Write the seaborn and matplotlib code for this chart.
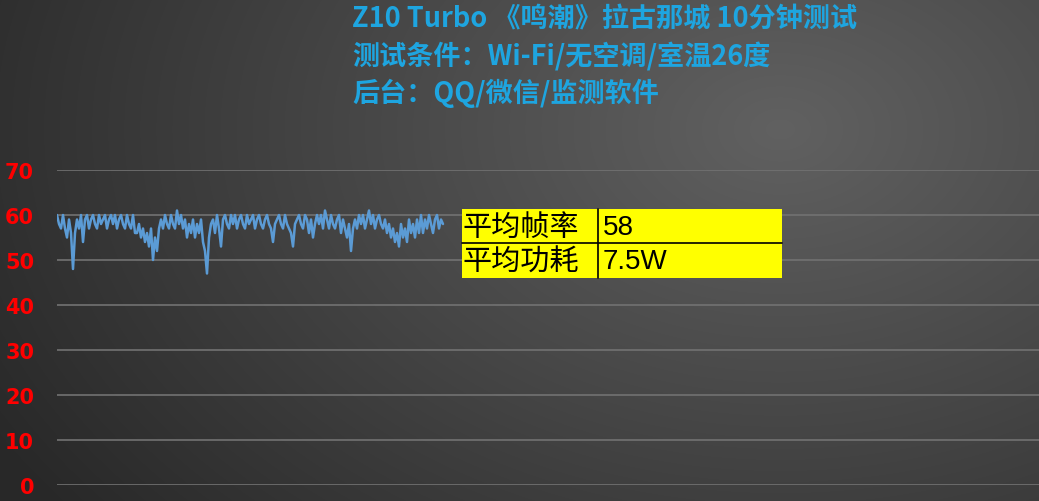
import numpy as np
import pandas as pd
import matplotlib
matplotlib.use("Agg")
import matplotlib.pyplot as plt
from matplotlib.patches import Rectangle
from matplotlib.lines import Line2D
import seaborn as sns

# ---------------- data ----------------
title_lines = [
    "Z10 Turbo 《鸣潮》拉古那城 10分钟测试",
    "测试条件：Wi-Fi/无空调/室温26度",
    "后台：QQ/微信/监测软件",
]
y_ticks = [0, 10, 20, 30, 40, 50, 60, 70]
fps = [
    60, 58, 57, 60, 57, 55, 59, 56, 48, 56, 59, 57, 60, 54,
    59, 60, 57, 59, 60, 58, 57, 60, 58, 59, 60, 57, 59, 60, 58, 60, 57,
    59, 60, 58, 57, 60,
    58, 57, 60, 56, 56,
    58, 55, 57, 54, 56, 53, 57, 50, 55, 52,
    57, 59, 57, 60, 58, 57, 60, 58, 57, 61,
    58, 60, 57, 59, 55,
    58, 56, 59, 55, 58, 56, 59, 54, 52, 47, 55,
    58, 59, 56, 60, 57, 53,
    59, 60, 58, 57, 60, 58, 60, 57, 59, 60, 58, 57, 60, 58, 59, 60, 57, 59,
    60, 58, 57, 59, 60, 58, 57, 54, 58, 59,
    60, 58, 57, 60, 58, 57, 56, 53, 58, 59,
    60, 58, 57, 60, 59, 56, 59, 55, 58, 60, 58, 60, 57, 61, 59,
    57, 60, 58, 57, 59, 60, 56, 59, 57, 55, 58, 52, 57, 59, 57,
    60, 58, 60, 57, 59, 61, 58, 60, 57, 59, 60, 58, 57, 59, 56,
    58, 55, 57, 54, 56, 53, 58, 55, 57, 54, 59, 56, 58, 55, 59, 56, 60, 56, 59,
    57, 60, 58, 56, 59, 60, 57, 59, 58,
]
table_labels = ["平均帧率", "平均功耗"]
table_values = ["58", "7.5W"]

df = pd.DataFrame({"t": np.arange(len(fps)), "fps": fps})

# ---------------- style ----------------
sns.set_style("dark")
plt.rcParams["font.family"] = ["Noto Sans CJK SC", "DejaVu Sans"]

W, H = 1039, 502
fig = plt.figure(figsize=(W / 100, H / 100), dpi=100)

# background gradient
bg = fig.add_axes([0, 0, 1, 1], zorder=-10)
yy, xx = np.mgrid[0:H, 0:W]
cx, cy = 780, 130
d = np.sqrt(((xx - cx) / 900.0) ** 2 + ((yy - cy) / 620.0) ** 2)
v = 0.38 - 0.22 * np.clip(d, 0, 1)
img = np.dstack([v, v, v])
bg.imshow(img, aspect="auto", extent=[0, 1, 0, 1], origin="upper")
bg.set_axis_off()

def px(x0, y0):
    return x0 / W, 1 - y0 / H

ax_left, ax_top, ax_bottom = 57, 171, 486
ax = fig.add_axes([ax_left / W, 1 - ax_bottom / H, 1 - ax_left / W, (ax_bottom - ax_top) / H])
ax.set_facecolor("none")

sns.lineplot(data=df, x="t", y="fps", ax=ax, color="#5b9bd5", linewidth=1.8)

n = len(fps)
span_px = 443 - 57
ax.set_xlim(0, (n - 1) * (W - ax_left) / span_px)
ax.set_ylim(0, 70)
ax.set_yticks(y_ticks)
ax.set_yticklabels([str(t) for t in y_ticks], color="#ff0000", fontsize=15,
                   fontweight="bold", family=["DejaVu Sans"])
ax.tick_params(axis="y", length=0, pad=16.5)
ax.set_xticks([])
ax.set_xlabel("")
ax.set_ylabel("")
ax.grid(axis="y", color="#727272", linewidth=1.2)
ax.grid(axis="x", visible=False)
ax.set_axisbelow(True)
for s in ax.spines.values():
    s.set_visible(False)

# title lines
for i, line in enumerate(title_lines):
    x, y = px(352, 20 + 36.5 * i)
    fig.text(x, y, line, color="#1ea5e0", fontsize=19.5, fontweight="bold",
             ha="left", va="center")

# summary table
tl, tr, tt, tm, tb, tc = 462, 782, 210, 243.5, 279, 598
x0, y0 = px(tl, tb)
fig.add_artist(Rectangle((x0, y0), (tr - tl) / W, (tb - tt) / H,
                         transform=fig.transFigure, facecolor="#ffff00",
                         edgecolor="none", zorder=5))
lk = dict(transform=fig.transFigure, color="black", linewidth=1.2, zorder=6)
fig.add_artist(Line2D([tl / W, tr / W], [1 - tm / H, 1 - tm / H], **lk))
fig.add_artist(Line2D([tc / W, tc / W], [1 - tt / H, 1 - tb / H], **lk))
rows_y = [(tt + tm) / 2 + 1, (tm + tb) / 2 + 1]
for lab, val, ry in zip(table_labels, table_values, rows_y):
    fig.text(tl / W + 1 / W, 1 - ry / H, lab, color="black", fontsize=21,
             ha="left", va="center", zorder=7)
    fig.text((tc + 5) / W, 1 - ry / H, val, color="black", fontsize=20,
             ha="left", va="center", zorder=7, family=["Liberation Sans"])

fig.savefig("out.png", dpi=100)
